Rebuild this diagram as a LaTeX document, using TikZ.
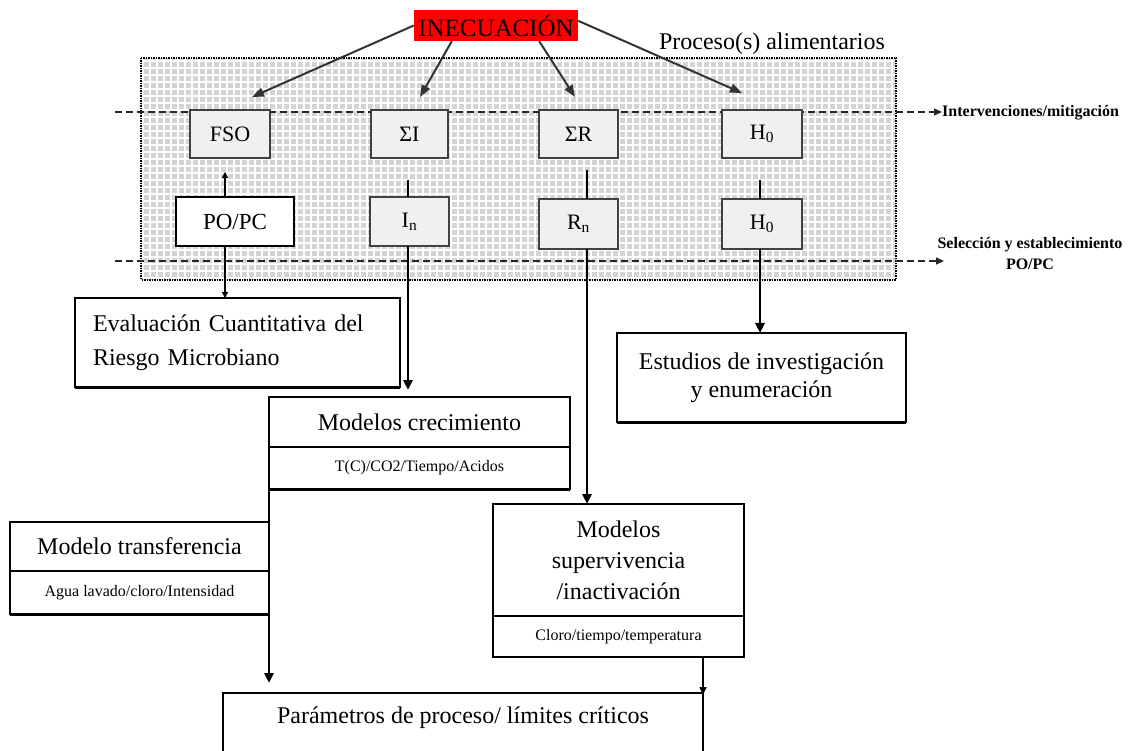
\documentclass[tikz,border=0pt]{standalone}
\usepackage{fontspec}
\setmainfont{Liberation Serif}
\usetikzlibrary{arrows.meta,calc}
\definecolor{regiongray}{RGB}{212,212,212}
\definecolor{boxfill}{RGB}{240,240,240}
\definecolor{boxedge}{RGB}{64,64,64}
\begin{document}
\begin{tikzpicture}[x=1pt,y=-1pt,
  big/.style={font=\fontsize{24}{30}\selectfont},
  small/.style={font=\fontsize{16}{19}\selectfont},
  pbox/.style={draw=boxedge, line width=1.5pt, fill=boxfill, inner sep=0pt, outer sep=0pt, anchor=north west, font=\fontsize{22}{26}\selectfont},
  wbox/.style={draw=black, line width=1.5pt, fill=white, inner sep=0pt, outer sep=0pt, anchor=north west},
  dashline/.style={dash pattern=on 7pt off 4pt, line width=1.5pt, draw=black!85},
  inearrow/.style={draw=black!80, line width=2pt, -{Triangle[length=12pt,width=9pt]}},
  thickarrow/.style={line width=2.5pt, -{Triangle[length=10pt,width=9pt]}},
  thinarrow/.style={line width=1.2pt, -{Triangle[length=6pt,width=6pt]}},
  sidelabel/.style={inner sep=0pt, font=\bfseries\fontsize{16}{21}\selectfont}
]
\useasboundingbox (0,0) rectangle (1130,751);
\fill[white] (0,0) rectangle (1130,751);

% process region
\fill[regiongray] (141,58) rectangle (896,280);
\foreach \i in {0,...,108} \draw[white, line width=1.2pt] ({143+7*\i},58) -- ({143+7*\i},280);
\foreach \j in {0,...,31} \draw[white, line width=1.2pt] (141,{61+7*\j}) -- (896,{61+7*\j});
\draw[densely dotted, line width=1.5pt] (141,58) rectangle (896,280);

% side labels and dashed lines
\node[sidelabel, anchor=west] (int) at (942,113) {Intervenciones/mitigación};
\node[sidelabel, align=center] (sel) at (1030,254) {Selección y establecimiento\\PO/PC};
\coordinate (dl1) at (115,112);
\coordinate (dl2) at (115,261);
\coordinate (dl2e) at (944,261);
\draw[dashline, -{Triangle[length=8pt,width=7pt]}] (dl1) -- (dl1 -| int.west);
\draw[dashline, -{Triangle[length=8pt,width=7pt]}] (dl2) -- (dl2e);

% top row
\node[pbox, minimum width=80, minimum height=48] (fso) at (190,110) {FSO};
\node[pbox, minimum width=77, minimum height=48] (si) at (371,110) {ΣI};
\node[pbox, minimum width=79, minimum height=48] (sr) at (539,110) {ΣR};
\node[pbox, minimum width=80, minimum height=48] (h0a) at (722,110) {H\textsubscript{0}};
% bottom row
\node[wbox, minimum width=118, minimum height=49, font=\fontsize{23}{26}\selectfont] (popc) at (176,197) {PO/PC};
\node[pbox, minimum width=79, minimum height=49] (in) at (370,197) {I\textsubscript{n}};
\node[pbox, minimum width=79, minimum height=50] (rn) at (539,199) {R\textsubscript{n}};
\node[pbox, minimum width=80, minimum height=50] (h0b) at (722,199) {H\textsubscript{0}};

% INECUACION
\node[fill=red, inner sep=0pt, minimum width=164, minimum height=31, font=\fontsize{25}{30}\selectfont] (ine) at (496,25.5) {INECUACIÓN};
\node[big] (proc) at (772,44) {Proceso(s) alimentarios};
\coordinate (t1) at (252,97);
\coordinate (t2) at (420,97);
\coordinate (t3) at (575,97);
\coordinate (t4) at (742,93);
\draw[inearrow] (ine.west) -- (t1);
\draw[inearrow] ($(ine.south west)+(38,0)$) -- (t2);
\draw[inearrow] ($(ine.south east)+(-39,0)$) -- (t3);
\draw[inearrow] ($(ine.north east)+(0,11)$) -- (t4);

% lower boxes
\node[wbox, minimum width=325, minimum height=89, text width=289pt, inner xsep=18pt, align=left, font=\fontsize{24}{34}\selectfont] (eval) at (75,298) {Evaluación Cuantitativa del\\Riesgo Microbiano};
\draw[line width=3pt] (eval.south west) -- (eval.south east);
\node[wbox, minimum width=289, minimum height=89, align=center, font=\fontsize{24}{28}\selectfont] (est) at (617,333) {Estudios de investigación\\y enumeración};
\draw[line width=3pt] (est.south west) -- (est.south east);

\node[wbox, minimum width=301, minimum height=50, big] (mc1) at (269,397) {Modelos crecimiento};
\node[wbox, minimum width=301, minimum height=42, small] (mc2) at (269,447) {T(C)/CO2/Tiempo/Acidos};
\draw[line width=3pt] (mc2.south west) -- (mc2.south east);

\node[wbox, minimum width=259, minimum height=49, big] (mt1) at (10,522) {Modelo transferencia};
\node[wbox, minimum width=259, minimum height=43, small] (mt2) at (10,571) {Agua lavado/cloro/Intensidad};
\draw[line width=3pt] (mt2.south west) -- (mt2.south east);

\node[wbox, minimum width=251, minimum height=112, align=center, font=\fontsize{24}{31}\selectfont] (ms1) at (493,504) {Modelos\\supervivencia\\/inactivación};
\node[wbox, minimum width=251, minimum height=41, small] (ms2) at (493,616) {Cloro/tiempo/temperatura};

\draw[line width=1.5pt] (223,760) |- (703,693) -- (703,760);
\node[big] (par) at (463,718) {Parámetros de proceso/ límites críticos};

% connectors
\coordinate (popcup) at (225,172);
\draw[thinarrow] (popc.north -| popcup) -- (popcup);
\draw[thinarrow] (popc.south -| popcup) -- (popcup |- eval.north);

\coordinate (inT) at (408,180);
\coordinate (inB) at (408,390);
\draw[line width=2pt] (inT) -- (inT |- in.north);
\draw[thickarrow] (inT |- in.south) -- (inB);

\coordinate (rnT) at (587,170);
\draw[line width=2pt] (rnT) -- (rnT |- rn.north);
\draw[thickarrow] (rnT |- rn.south) -- (rnT |- ms1.north);

\coordinate (hT) at (760,180);
\draw[line width=2pt] (hT) -- (hT |- h0b.north);
\draw[thickarrow] (hT |- h0b.south) -- (hT |- est.north);

\coordinate (mcB) at (269,683);
\draw[thickarrow] (mc2.south west) -- (mcB);

\coordinate (msx) at (703,695);
\draw[line width=1.5pt, -{Triangle[length=8pt,width=7pt]}] (ms2.south -| msx) -- (msx);
\end{tikzpicture}
\end{document}
